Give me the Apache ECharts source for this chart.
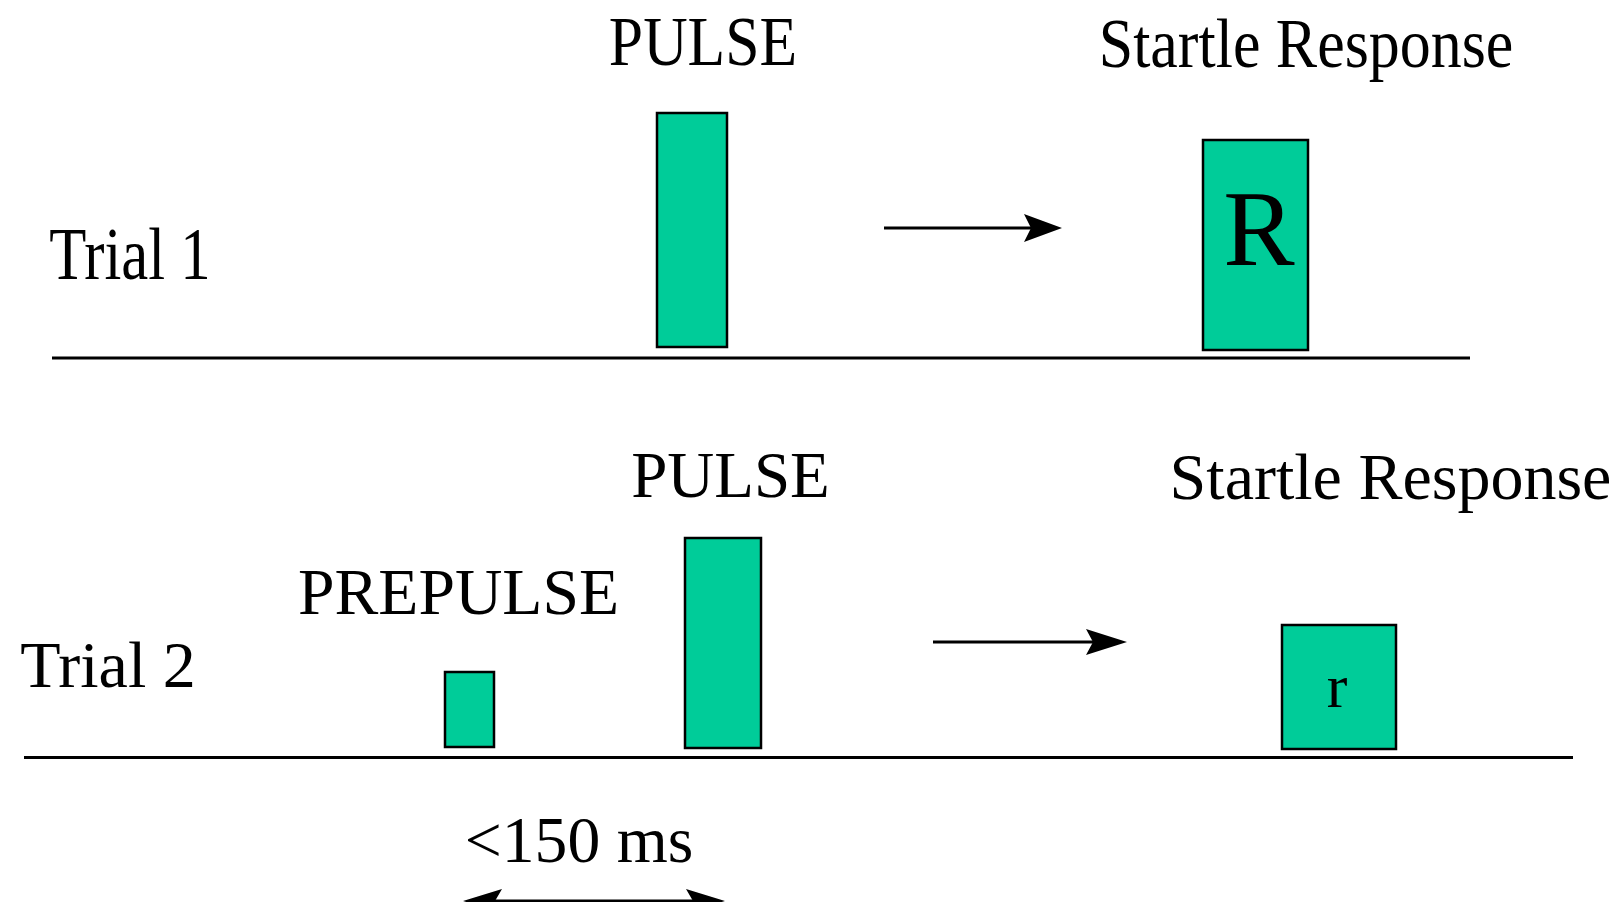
<!DOCTYPE html>
<html><head><meta charset="utf-8">
<script src="https://cdn.jsdelivr.net/npm/echarts@6/dist/echarts.min.js"></script>
<style>html,body{margin:0;padding:0;background:#fff}#c{width:1619px;height:902px}</style>
</head><body><div id="c"></div>
<script>
// ---- data (x: time axis units, y: height above each trial's baseline) ----
const trial1Baseline = [[52, 0], [1470, 0]];
const trial2Baseline = [[24, 0], [1573, 0]];
// stimuli / responses: [start, end, bottom, top]
const trial1Bars = [[657, 727, 11, 245], [1203, 1308, 8, 218]];
const trial2Bars = [[445, 494, 10.5, 85.5], [685, 761, 9.5, 219.5], [1282, 1396, 8.5, 132.5]];
// arrows: [from, to, level, doubleHeaded]
const trial1Arrows = [[884, 1062, 130, 0]];
const trial2Arrows = [[933, 1127, 115.5, 0], [463, 725, -143.5, 1]];
// labels: [text, x, y]
const trial1Labels = [['PULSE', 703, 311], ['Startle Response', 1306, 309], ['Trial 1', 130, 98.3], ['R', 1259, 120.6]];
const trial2Labels = [['PULSE', 730.5, 277.3], ['Startle Response', 1390.5, 275.5], ['PREPULSE', 458.5, 160.3], ['Trial 2', 108, 87.5], ['r', 1337, 66.5], ['<150 ms', 579, -87]];

// ---- styles ----
const FONT = '"Liberation Serif", "Times New Roman", serif';
const FILL = '#00CC99';
const trial1LabelStyle = [{s: 70, k: 0.88}, {s: 70, k: 0.885}, {s: 75, k: 0.81}, {s: 107, k: 1}];
const trial2LabelStyle = [{s: 65, k: 1}, {s: 66, k: 1}, {s: 65, k: 1.01}, {s: 66, k: 1}, {s: 62, k: 1}, {s: 65, k: 1.01}];
const trial1ArrowStyle = [{L: 38, H: 14}];
const trial2ArrowStyle = [{L: 41, H: 13}, {L: 39, H: 12}];

function barSeries(idx, bars) {
  return {
    type: 'custom', xAxisIndex: idx, yAxisIndex: idx, clip: false,
    data: bars,
    renderItem: function (params, api) {
      const a = api.coord([api.value(0), api.value(3)]);
      const b = api.coord([api.value(1), api.value(2)]);
      return {type: 'rect', shape: {x: a[0], y: a[1], width: b[0] - a[0], height: b[1] - a[1]},
        style: {fill: FILL, stroke: '#000', lineWidth: 2.5}};
    }
  };
}
function arrowSeries(idx, arrows, st) {
  return {
    type: 'custom', xAxisIndex: idx, yAxisIndex: idx, clip: false,
    data: arrows,
    renderItem: function (params, api) {
      const s = st[params.dataIndex];
      const p0 = api.coord([api.value(0), api.value(2)]);
      const p1 = api.coord([api.value(1), api.value(2)]);
      const y = p0[1];
      const dbl = api.value(3) === 1;
      const notch = 7;
      const children = [];
      const x0 = dbl ? p0[0] + s.L - notch : p0[0];
      const x1 = p1[0] - s.L + notch;
      children.push({type: 'line', shape: {x1: x0, y1: y, x2: x1, y2: y}, style: {stroke: '#000', lineWidth: 3}});
      children.push({type: 'polygon', shape: {points: [[p1[0], y], [p1[0] - s.L, y - s.H], [p1[0] - s.L + notch, y], [p1[0] - s.L, y + s.H]]}, style: {fill: '#000'}});
      if (dbl) {
        children.push({type: 'polygon', shape: {points: [[p0[0], y], [p0[0] + s.L, y - s.H], [p0[0] + s.L - notch, y], [p0[0] + s.L, y + s.H]]}, style: {fill: '#000'}});
      }
      return {type: 'group', children: children};
    }
  };
}
function labelSeries(idx, labels, st) {
  return {
    type: 'custom', xAxisIndex: idx, yAxisIndex: idx, clip: false,
    data: labels.map(l => [l[1], l[2]]),
    renderItem: function (params, api) {
      const l = labels[params.dataIndex];
      const s = st[params.dataIndex];
      const p = api.coord([api.value(0), api.value(1)]);
      return {type: 'text', x: p[0], y: p[1], scaleX: s.k, scaleY: 1,
        style: {text: l[0], fontSize: s.s, fontFamily: FONT, fill: '#000', align: 'center', verticalAlign: 'middle'}};
    }
  };
}
function baseLine(idx, pts) {
  return {type: 'line', xAxisIndex: idx, yAxisIndex: idx, data: pts, symbol: 'none', clip: false,
    lineStyle: {color: '#000', width: 3}, silent: true};
}

const chart = echarts.init(document.getElementById('c'), null, {renderer: 'canvas'});
chart.setOption({
  animation: false,
  backgroundColor: '#fff',
  grid: [{left: 0, right: 0, top: 0, height: 358}, {left: 0, right: 0, top: 0, bottom: 0}],
  xAxis: [
    {type: 'value', gridIndex: 0, min: 0, max: 1619, show: false},
    {type: 'value', gridIndex: 1, min: 0, max: 1619, show: false}
  ],
  yAxis: [
    {type: 'value', gridIndex: 0, min: 0, max: 358, show: false},
    {type: 'value', gridIndex: 1, min: -144.5, max: 757.5, show: false}
  ],
  series: [
    baseLine(0, trial1Baseline), baseLine(1, trial2Baseline),
    barSeries(0, trial1Bars), barSeries(1, trial2Bars),
    arrowSeries(0, trial1Arrows, trial1ArrowStyle), arrowSeries(1, trial2Arrows, trial2ArrowStyle),
    labelSeries(0, trial1Labels, trial1LabelStyle), labelSeries(1, trial2Labels, trial2LabelStyle)
  ]
});
</script></body></html>
